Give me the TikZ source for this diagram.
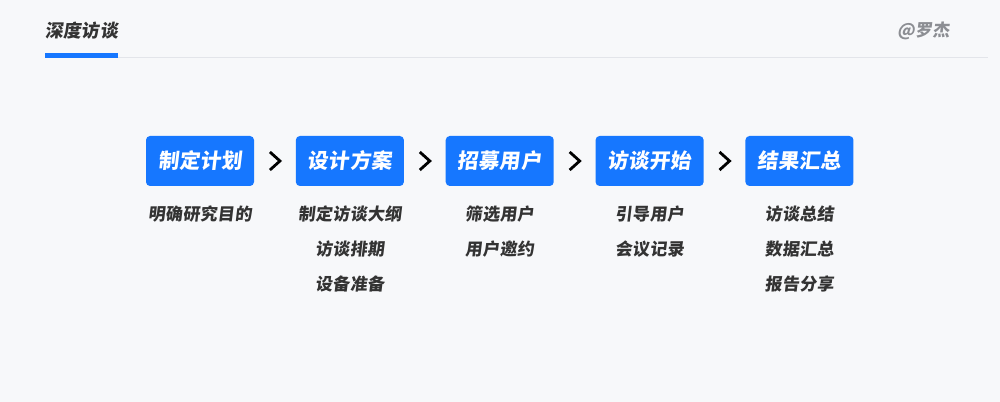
\documentclass[tikz,border=0pt]{standalone}
\usepackage{fontspec}
\setmainfont{Noto Sans CJK SC}[FakeSlant=0.12,
  BoldFeatures={FakeSlant=0.12, LetterSpace=2}]
\usetikzlibrary{calc,positioning}
\definecolor{pagebg}{HTML}{F7F8FA}
\definecolor{stageblue}{HTML}{1677FF}
\definecolor{inkdark}{HTML}{333333}
\definecolor{inkgray}{HTML}{8C8E93}
\definecolor{rulegray}{HTML}{E3E5EA}

\begin{document}
\begin{tikzpicture}[x=0.75pt,y=-0.75pt,
  stage/.style={fill=stageblue, rounded corners=3pt, text=white,
    minimum width=81pt, minimum height=37.5pt, inner sep=0pt,
    font=\fontsize{15.5}{15.5}\selectfont\bfseries},
  task/.style={text=inkdark, inner sep=0pt, on grid,
    font=\fontsize{12.75}{12.75}\selectfont\bfseries},
  node distance=31pt]
  \fill[pagebg] (0,0) rectangle (1000,402);

  % header
  \node[anchor=west, inner sep=0pt, text=inkdark,
    font=\fontsize{13.5}{13.5}\selectfont\bfseries] (title) at (45,31) {深度访谈};
  \node[anchor=east, inner sep=0pt, text=inkgray,
    font=\fontsize{12.75}{12.75}\selectfont\bfseries] (sign) at (950,31) {@罗杰};
  \coordinate (rule-a) at (45,57.5);
  \coordinate (rule-b) at (118,57.5);
  \coordinate (rule-c) at (988,57.5);
  \draw[rulegray, line width=0.8pt] (rule-b) -- (rule-c);
  \draw[stageblue, line width=3.2pt] ($(rule-a)+(0,-2)$) -- ($(rule-b)+(0,-2)$);

  % stages
  \node[stage] (plan) at (200,161) {制定计划};
  \node[stage, right=of plan] (design) {设计方案};
  \node[stage, right=of design] (recruit) {招募用户};
  \node[stage, right=of recruit] (talk) {访谈开始};
  \node[stage, right=of talk] (result) {结果汇总};

  % chevrons between the stages
  \foreach \a/\b in {plan/design, design/recruit, recruit/talk, talk/result}
    \draw[line width=2.1pt, miter limit=10]
      ($(\a.east)!.5!(\b.west)+(-5,-9)$) -- ++(10,9) -- ++(-10,9);

  % tasks under each stage
  \node[task, below=39.75pt of plan] (plan-1) {明确研究目的};

  \node[task, below=39.75pt of design] (design-1) {制定访谈大纲};
  \node[task, below=26.25pt of design-1] (design-2) {访谈排期};
  \node[task, below=26.25pt of design-2] (design-3) {设备准备};

  \node[task, below=39.75pt of recruit] (recruit-1) {筛选用户};
  \node[task, below=26.25pt of recruit-1] (recruit-2) {用户邀约};

  \node[task, below=39.75pt of talk] (talk-1) {引导用户};
  \node[task, below=26.25pt of talk-1] (talk-2) {会议记录};

  \node[task, below=39.75pt of result] (result-1) {访谈总结};
  \node[task, below=26.25pt of result-1] (result-2) {数据汇总};
  \node[task, below=26.25pt of result-2] (result-3) {报告分享};
\end{tikzpicture}
\end{document}
